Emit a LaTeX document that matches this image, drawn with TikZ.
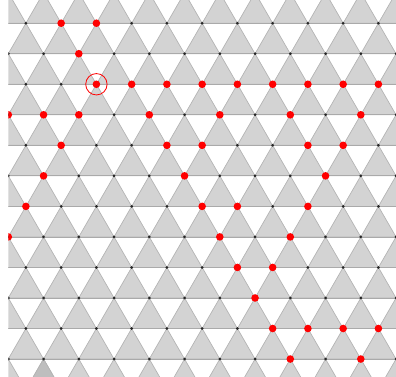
\documentclass[tikz,border=0pt]{standalone}
\usetikzlibrary{calc}
\definecolor{trifill}{RGB}{211,211,211}
\definecolor{tridark}{RGB}{190,190,190}
\definecolor{triedge}{RGB}{180,180,180}
\definecolor{rowedge}{RGB}{170,170,170}
\definecolor{dotred}{RGB}{255,0,0}
\tikzset{
  uptri/.style={fill=trifill,draw=triedge,line width=0.7pt,line join=round},
  darktri/.style={fill=tridark,draw=triedge,line width=0.7pt,line join=round},
  rowline/.style={draw=rowedge,line width=0.8pt},
  latdot/.style={fill=black!85},
  reddot/.style={fill=dotred},
  ring/.style={draw=dotred,line width=0.8pt}
}
\newcommand{\latx}[2]{\pgfmathsetmacro\LX{ifthenelse(mod(#1+2,2)==1,8.3,25.9)+#2*35.25}}
\newcommand{\laty}[1]{\pgfmathsetmacro\LY{23.2+#1*30.53}}
\begin{document}
\begin{tikzpicture}[x=1pt,y=-1pt]
\useasboundingbox (0,0) rectangle (396,376);
\clip (8.3,0) rectangle (396,376);
% up triangles
\foreach \r in {-1,...,12}{
  \foreach \k in {-1,...,12}{
    \latx{\r}{\k}\laty{\r}
    \pgfmathsetmacro\YB{\LY+30.53}
    \pgfmathsetmacro\XL{\LX-17.625}
    \pgfmathsetmacro\XR{\LX+17.625}
    \path[uptri] (\LX,\LY) -- (\XL,\YB) -- (\XR,\YB) -- cycle;
  }
}
% darker triangle at bottom left
\latx{11}{1}\laty{11}
\pgfmathsetmacro\YB{\LY+30.53}
\pgfmathsetmacro\XL{\LX-17.625}
\pgfmathsetmacro\XR{\LX+17.625}
\path[darktri] (\LX,\LY) coordinate (dapex) -- (\XL,\YB) -- (\XR,\YB) -- cycle;
% row lines
\foreach \r in {-1,...,12}{
  \laty{\r}
  \path[rowline] (0,\LY) -- (400,\LY);
}
% lattice points
\foreach \r in {-1,...,12}{
  \foreach \k in {-1,...,12}{
    \latx{\r}{\k}\laty{\r}
    \fill[latdot] (\LX,\LY) circle (1.5);
  }
}
% red points
\foreach \r/\k in {0/1,0/2,1/2,
  2/2,2/3,2/4,2/5,2/6,2/7,2/8,2/9,2/10,
  3/0,3/1,3/2,3/4,3/6,3/8,3/10,
  4/1,4/4,4/5,4/8,4/9,
  5/1,5/5,5/9,
  6/0,6/5,6/6,6/8,
  7/0,7/6,7/8,
  8/6,8/7,
  9/7,
  10/7,10/8,10/9,10/10,
  11/8,11/10}{
  \latx{\r}{\k}\laty{\r}
  \fill[reddot] (\LX,\LY) circle (3.8);
}
% ring around marked point
\latx{2}{2}\laty{2}
\coordinate (marked) at (\LX,\LY);
\draw[ring] (marked) circle (10.7);
\end{tikzpicture}
\end{document}
